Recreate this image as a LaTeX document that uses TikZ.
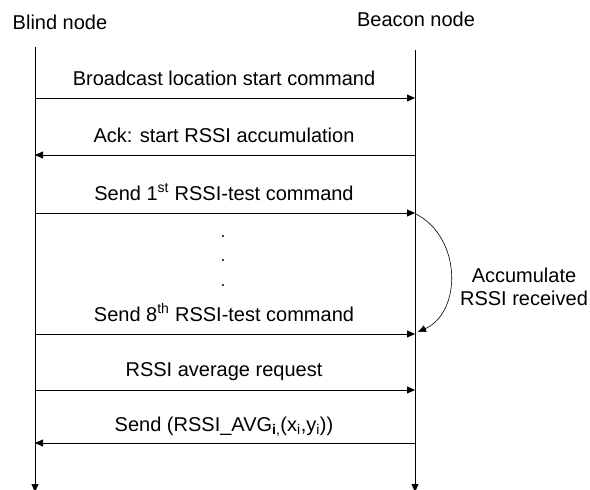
\documentclass[tikz,border=0pt]{standalone}
\usepackage{fontspec}
\setmainfont{Liberation Sans}
\usetikzlibrary{arrows.meta}
\begin{document}
\begin{tikzpicture}[x=1pt,y=-1pt,
  tip/.style={-{Triangle[length=8pt,width=7pt]}},
  lifeline/.style={line width=0.75pt,tip},
  msg/.style={line width=0.75pt,tip},
  txt/.style={font=\fontsize{20}{23}\selectfont,inner sep=0pt},
  lbl/.style={txt,anchor=base}]
\useasboundingbox (0,0) rectangle (590,490);
% titles
\node[lbl] (blind) at (60,29) {Blind node};
\node[lbl] (beacon) at (416,26) {Beacon node};
% lifelines
\coordinate (Ltop) at (35,47);
\coordinate (Rtop) at (415,50);
\coordinate (Lbot) at (35,492);
\coordinate (Rbot) at (415,492);
\draw[lifeline] (Ltop) -- (Lbot);
\draw[lifeline] (Rtop) -- (Rbot);
% message points
\foreach \i/\y in {1/98,2/155,3/213,4/334,5/390,6/443}{
  \coordinate (L\i) at (35,\y);
  \coordinate (R\i) at (415,\y);
}
\draw[msg] (L1) -- (R1);
\draw[msg] (R2) -- (L2);
\draw[msg] (L3) -- (R3);
\draw[msg] (L4) -- (R4);
\draw[msg] (L5) -- (R5);
\draw[msg] (R6) -- (L6);
% labels
\node[lbl] (t1) at (224,85) {Broadcast location start command};
\node[lbl] (t2) at (224,142) {Ack: start RSSI accumulation};
\node[lbl] (t3) at (224,200) {Send 1\textsuperscript{st} RSSI-test command};
\node[lbl] (t4) at (224,321) {Send 8\textsuperscript{th} RSSI-test command};
\node[lbl] (t5) at (224,376) {RSSI average request};
\node[lbl] (t6) at (224,431) {Send (RSSI\_AVG\textsubscript{\textbf{i},}(x\textsubscript{i},y\textsubscript{i}))};
% dots
\foreach \y/\n in {236/d1,260/d2,285/d3}{
  \fill (223,\y) circle (1.1pt);
  \coordinate (\n) at (223,\y);
}
% accumulate curve
\coordinate (cs) at (416,214);
\coordinate (ce) at (418,332);
\draw[line width=0.6pt,tip] (cs) .. controls (462,238) and (462,312) .. (ce);
\node[txt,align=center] (acc) at (524,287) {Accumulate\\RSSI received};
\end{tikzpicture}
\end{document}
